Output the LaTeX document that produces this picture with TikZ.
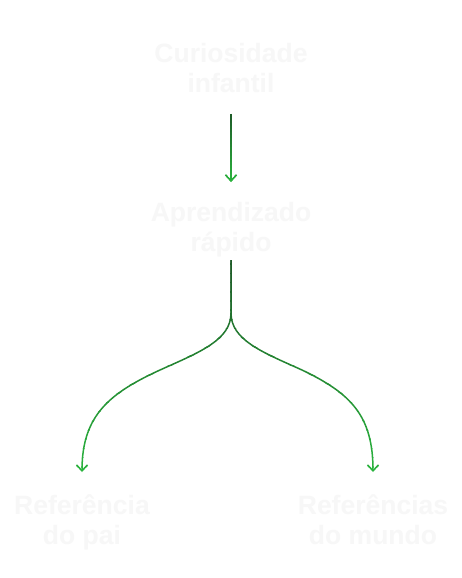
\documentclass[tikz,border=0pt]{standalone}
\usepackage{fontspec}
\setmainfont{Liberation Sans}
\usepackage{xcolor}
\usepackage{tikz}
\usetikzlibrary{arrows.meta,positioning}
\definecolor{linkdark}{RGB}{30,88,40}
\definecolor{linklight}{RGB}{42,182,62}
\definecolor{labelwhite}{RGB}{247,247,247}

% draw a path in horizontal bands, going from dark (top) to light (bottom)
\newcommand{\greenline}[4]{%
  \foreach \k in {0,...,23}{
    \pgfmathsetmacro{\ya}{#2+(#3-#2)*\k/24-0.3}
    \pgfmathsetmacro{\yb}{#2+(#3-#2)*(\k+1)/24+0.3}
    \pgfmathtruncatemacro{\mix}{100*(\k+0.5)/24}
    \begin{scope}
      \clip (0,\ya) rectangle (462,\yb);
      \draw[arr, #1, draw=linklight!\mix!linkdark] #4;
    \end{scope}
  }}

\begin{document}
\begin{tikzpicture}[
  x=1pt, y=-1pt,
  every node/.style={font=\bfseries\fontsize{26.5}{30}\selectfont},
  lbl/.style={text=labelwhite, align=center, inner sep=0pt, anchor=north},
  arr/.style={-{Straight Barb[length=6pt,width=11pt]}, line width=1.5pt}
]
  \fill[white] (0,0) rectangle (462,578);
  \useasboundingbox (0,0) rectangle (462,578);

  \node[lbl] (curious) at (231,43)  {Curiosidade\\infantil};
  \node[lbl] (learn)   at (231,202) {Aprendizado\\rápido};
  \node[lbl] (father)  at (82,495)  {Referência\\do pai};
  \node[lbl] (world)   at (373,495) {Referências\\do mundo};

  \coordinate (split) at (231,313);

  \greenline{shorten <=21pt, shorten >=20pt}{112}{184}{(curious.south) -- (learn.north)}
  \greenline{shorten <=3pt, shorten >=23pt}{255}{476}
    {(learn.south) -- (split) .. controls (231,340) and (200,352) .. (160,370)
     .. controls (110,393) and (82,415) .. (father.north)}
  \greenline{shorten <=3pt, shorten >=23pt}{255}{476}
    {(learn.south) -- (split) .. controls (231,340) and (262,352) .. (302,370)
     .. controls (350,393) and (373,415) .. (world.north)}
\end{tikzpicture}
\end{document}
